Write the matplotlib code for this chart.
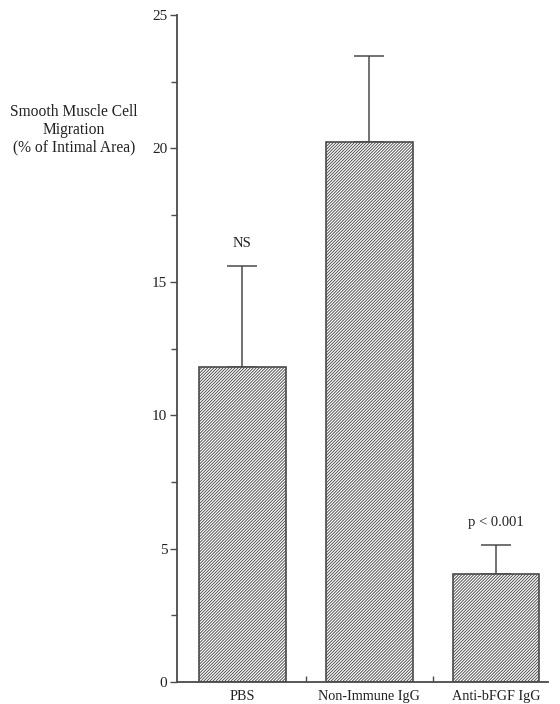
import matplotlib
matplotlib.use("Agg")
import matplotlib.pyplot as plt
import numpy as np
from matplotlib.ticker import MultipleLocator

# Migration data (% of intimal area)
groups = ["PBS", "Non-Immune IgG", "Anti-bFGF IgG"]
means = [11.8, 20.25, 4.05]
errors = [3.8, 3.2, 1.08]
notes = ["NS", "", "p < 0.001"]

plt.rcParams["font.family"] = ["Liberation Serif", "DejaVu Serif"]
plt.rcParams["hatch.linewidth"] = 0.65
plt.rcParams["hatch.color"] = "#666666"

ink = "#4a4a4a"
fig = plt.figure(figsize=(5.6, 7.04), dpi=100)
ax = fig.add_axes([177 / 560, 22 / 704, (548 - 177) / 560, (682 - 15) / 704])

x = np.arange(len(groups))
ax.bar(x, means, width=0.685, facecolor="white", edgecolor=ink,
       linewidth=1.2, hatch="/" * 11, zorder=2)
ax.errorbar(x, means, yerr=[np.zeros(len(errors)), errors], fmt="none",
            ecolor=ink, elinewidth=1.1, capsize=11, capthick=1.1, zorder=1)

for xi, m, e, note in zip(x, means, errors, notes):
    if note:
        ax.text(xi, m + e + 0.6, note, ha="center", va="bottom",
                fontsize=10.5, color="#222222")

ax.set_xlim(-0.515, 2.41)
ax.set_ylim(0, 25)
ax.yaxis.set_major_locator(MultipleLocator(5))
ax.yaxis.set_minor_locator(MultipleLocator(2.5))
ax.set_xticks(x)
ax.set_xticklabels(groups, fontsize=10.2, color="#222222")
ax.set_xticks([0.5, 1.5], minor=True)
ax.tick_params(axis="x", which="major", length=0, pad=6)
ax.tick_params(axis="x", which="minor", direction="in", length=4, width=1, color=ink)
ax.tick_params(axis="y", which="both", direction="out", length=5, width=1,
               color=ink, labelsize=11, labelcolor="#222222", pad=2)
ax.tick_params(axis="y", which="minor", length=4)

for side in ["top", "right"]:
    ax.spines[side].set_visible(False)
for side in ["left", "bottom"]:
    ax.spines[side].set_color(ink)
    ax.spines[side].set_linewidth(1.3)

fig.text(74 / 560, 1 - 130 / 704,
         "Smooth Muscle Cell\nMigration\n(% of Intimal Area)",
         ha="center", va="center", fontsize=11.2, color="#222222",
         linespacing=1.15)

fig.savefig("out.png", dpi=100)
